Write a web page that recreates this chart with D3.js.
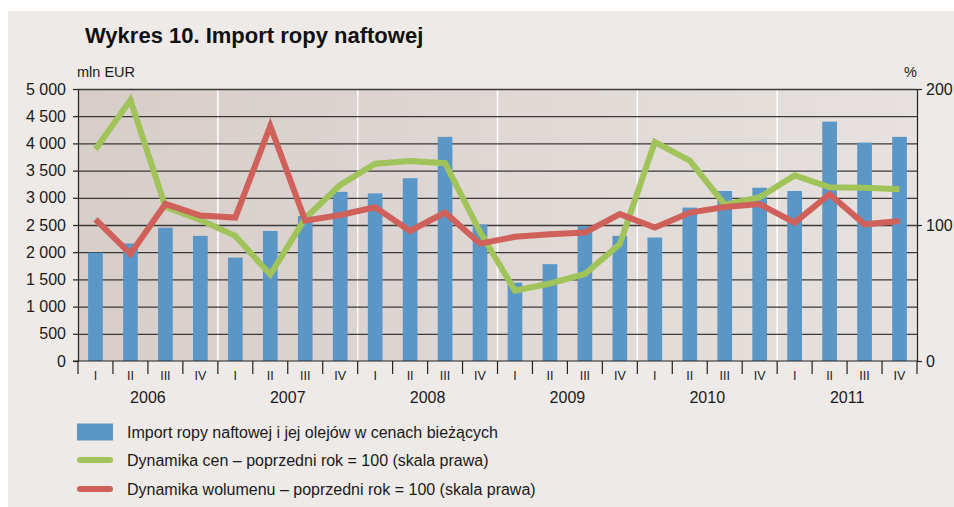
<!DOCTYPE html>
<html>
<head>
<meta charset="utf-8">
<script src="https://cdn.jsdelivr.net/npm/d3@7"></script>
<style>
  html, body { margin: 0; padding: 0; background: #ffffff; }
  svg { display: block; }
</style>
</head>
<body>
<div id="chart"></div>
<script>
// data
const years = ['2006', '2007', '2008', '2009', '2010', '2011'];
const quarters = ['I', 'II', 'III', 'IV'];
const importValues = [1990, 2160, 2450, 2300, 1900, 2390, 2665, 3110, 3080, 3360, 4120, 2510,
  1440, 1780, 2480, 2300, 2270, 2820, 3125, 3185, 3125, 4400, 4015, 4120];
const priceDyn = [155.7, 191.9, 113.5, 103.7, 92, 63.5, 105, 129.4, 145, 147, 145.4, 95,
  51.7, 57, 64, 86, 161, 147.3, 115, 120.5, 136.5, 127.7, 127.4, 126.2];
const volumeDyn = [104.2, 78.7, 115.5, 106.9, 105.5, 172.8, 103.2, 107.4, 113, 95.6, 109.2, 86.3,
  91.4, 93.2, 94.5, 108, 98.2, 109.1, 113.2, 115.4, 101.8, 122.7, 100.5, 102.9];
const leftTicks = [0, 500, 1000, 1500, 2000, 2500, 3000, 3500, 4000, 4500, 5000];
const rightTicks = [0, 100, 200];
const legendLabels = [
  'Import ropy naftowej i jej olejów w cenach bieżących',
  'Dynamika cen – poprzedni rok = 100 (skala prawa)',
  'Dynamika wolumenu – poprzedni rok = 100 (skala prawa)'
];

const keys = [];
years.forEach((y) => quarters.forEach((q) => keys.push(y + '-' + q)));

const W = 954, H = 507;
const plot = { left: 78, right: 917, top: 89, bottom: 361 };
const colors = { bar: '#5a96c6', price: '#a1c45a', volume: '#d0605a' };
const font = '"Liberation Sans", Arial, sans-serif';

const svg = d3.select('#chart')
  .append('svg')
  .attr('width', W)
  .attr('height', H);

const defs = svg.append('defs');
const grad = defs.append('linearGradient')
  .attr('id', 'plotbg')
  .attr('x1', '0').attr('x2', '1').attr('y1', '0').attr('y2', '0');
grad.append('stop').attr('offset', '0').attr('stop-color', '#d7cdc9');
grad.append('stop').attr('offset', '1').attr('stop-color', '#e7e2df');

// panel
svg.append('rect')
  .attr('x', 8).attr('y', 11)
  .attr('width', W - 8).attr('height', H - 11)
  .attr('fill', '#eeeae7');

// scales
const x = d3.scaleBand().domain(keys).range([plot.left, plot.right]).padding(0);
const xYear = d3.scaleBand().domain(years).range([plot.left, plot.right]).padding(0);
const y = d3.scaleLinear().domain([0, 5000]).range([plot.bottom, plot.top]);
const y2 = d3.scaleLinear().domain([0, 200]).range([plot.bottom, plot.top]);

// plot background
svg.append('rect')
  .attr('x', plot.left).attr('y', plot.top)
  .attr('width', plot.right - plot.left).attr('height', plot.bottom - plot.top)
  .attr('fill', 'url(#plotbg)');

// year separators
svg.append('g')
  .selectAll('line')
  .data(years.slice(1))
  .join('line')
  .attr('x1', (d) => xYear(d)).attr('x2', (d) => xYear(d))
  .attr('y1', plot.top).attr('y2', plot.bottom)
  .attr('stroke', '#ffffff')
  .attr('stroke-width', 1.5);

// left axis with gridlines
svg.append('g')
  .attr('transform', `translate(${plot.left},0)`)
  .call(d3.axisLeft(y).tickValues(leftTicks).tickSize(5).tickPadding(7)
    .tickFormat((d) => d3.format(',')(d).replace(',', ' ')))
  .call((g) => g.select('.domain').attr('stroke', '#222').attr('stroke-width', 1.2))
  .call((g) => g.selectAll('.tick line').attr('stroke', '#222').attr('stroke-width', 1.2))
  .call((g) => g.selectAll('.tick').append('line')
    .attr('x1', 0).attr('x2', plot.right - plot.left)
    .attr('stroke', (d) => (d === 0 ? 'none' : '#3a3a3a'))
    .attr('stroke-width', 1.3))
  .selectAll('text')
  .attr('fill', '#1a1a1a')
  .style('font-family', font)
  .style('font-size', '16px');

// right axis
svg.append('g')
  .attr('transform', `translate(${plot.right},0)`)
  .call(d3.axisRight(y2).tickValues(rightTicks).tickSize(5).tickPadding(4))
  .call((g) => g.select('.domain').attr('stroke', '#222').attr('stroke-width', 1.2))
  .call((g) => g.selectAll('.tick line').attr('stroke', '#222').attr('stroke-width', 1.2))
  .selectAll('text')
  .attr('fill', '#1a1a1a')
  .style('font-family', font)
  .style('font-size', '16px');

// bars
const barW = x.bandwidth() * 0.42;
svg.append('g')
  .selectAll('rect')
  .data(importValues)
  .join('rect')
  .attr('x', (d, i) => x(keys[i]) + (x.bandwidth() - barW) / 2)
  .attr('y', (d) => y(d))
  .attr('width', barW)
  .attr('height', (d) => y(0) - y(d))
  .attr('fill', colors.bar);

// bottom axis line and ticks
svg.append('line')
  .attr('x1', plot.left - 5).attr('x2', plot.right)
  .attr('y1', plot.bottom).attr('y2', plot.bottom)
  .attr('stroke', '#222').attr('stroke-width', 1.2);

svg.append('g')
  .selectAll('line')
  .data(keys.concat(['end']))
  .join('line')
  .attr('x1', (d) => (d === 'end' ? plot.right : x(d)))
  .attr('x2', (d) => (d === 'end' ? plot.right : x(d)))
  .attr('y1', plot.bottom).attr('y2', plot.bottom + 13)
  .attr('stroke', '#222').attr('stroke-width', 1.2);

// quarter labels
svg.append('g')
  .selectAll('text')
  .data(keys)
  .join('text')
  .attr('x', (d) => x(d) + x.bandwidth() / 2)
  .attr('y', 380)
  .attr('text-anchor', 'middle')
  .style('font-family', font)
  .style('font-size', '12.5px')
  .attr('fill', '#1a1a1a')
  .text((d) => d.split('-')[1]);

// year labels
svg.append('g')
  .selectAll('text')
  .data(years)
  .join('text')
  .attr('x', (d) => xYear(d) + xYear.bandwidth() / 2)
  .attr('y', 403)
  .attr('text-anchor', 'middle')
  .style('font-family', font)
  .style('font-size', '16px')
  .attr('fill', '#1a1a1a')
  .text((d) => d);

// lines
const line = (scale) => d3.line()
  .x((d, i) => x(keys[i]) + x.bandwidth() / 2)
  .y((d) => scale(d));

svg.append('path')
  .datum(priceDyn)
  .attr('d', line(y2))
  .attr('fill', 'none')
  .attr('stroke', colors.price)
  .attr('stroke-width', 6)
  .attr('stroke-linejoin', 'miter');

svg.append('path')
  .datum(volumeDyn)
  .attr('d', line(y2))
  .attr('fill', 'none')
  .attr('stroke', colors.volume)
  .attr('stroke-width', 6)
  .attr('stroke-linejoin', 'miter');

// title and units
svg.append('text')
  .attr('x', 85).attr('y', 43)
  .style('font-family', font)
  .style('font-weight', 'bold')
  .style('font-size', '22px')
  .attr('fill', '#111')
  .text('Wykres 10. Import ropy naftowej');

svg.append('text')
  .attr('x', 77).attr('y', 77)
  .style('font-family', font)
  .style('font-size', '14.5px')
  .attr('fill', '#1a1a1a')
  .text('mln EUR');

svg.append('text')
  .attr('x', 917).attr('y', 77)
  .attr('text-anchor', 'end')
  .style('font-family', font)
  .style('font-size', '14.5px')
  .attr('fill', '#1a1a1a')
  .text('%');

// legend
const legend = svg.append('g');
const legendY = [432, 460, 489];
legend.append('rect')
  .attr('x', 77).attr('y', legendY[0] - 8.5)
  .attr('width', 36).attr('height', 17)
  .attr('fill', colors.bar);
[colors.price, colors.volume].forEach((c, i) => {
  legend.append('line')
    .attr('x1', 80).attr('x2', 110)
    .attr('y1', legendY[i + 1]).attr('y2', legendY[i + 1])
    .attr('stroke', c)
    .attr('stroke-width', 6)
    .attr('stroke-linecap', 'round');
});
legend.selectAll('text')
  .data(legendLabels)
  .join('text')
  .attr('x', 127)
  .attr('y', (d, i) => legendY[i] + 6)
  .style('font-family', font)
  .style('font-size', '16px')
  .attr('fill', '#1a1a1a')
  .text((d) => d);
</script>
</body>
</html>
